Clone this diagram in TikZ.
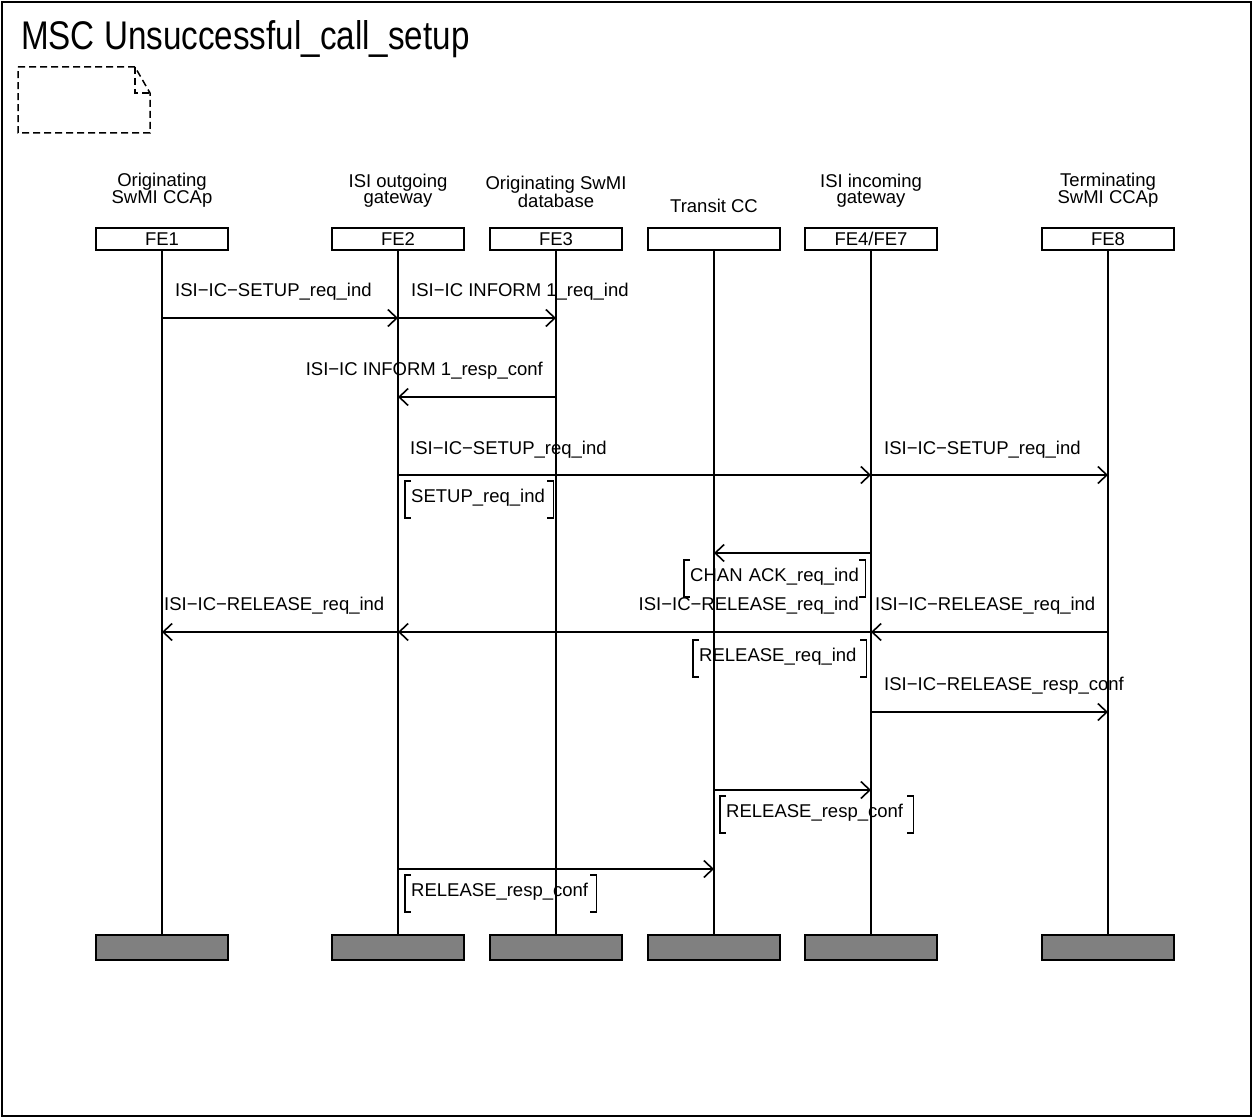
\documentclass[tikz,border=0pt]{standalone}
\usepackage{fontspec}
\setmainfont{Liberation Sans}
\newfontfamily\mscTitleFont[FakeStretch=0.83]{Liberation Sans}
\usetikzlibrary{arrows.meta}
\newcommand\mscbrk[1]{%
  \draw[lw] ([xshift=6pt]#1.north west) -- (#1.north west) -- (#1.south west) -- ([xshift=6pt]#1.south west);
  \draw[lw] ([xshift=-6pt]#1.north east) -- (#1.north east) -- (#1.south east) -- ([xshift=-6pt]#1.south east);}
\begin{document}
\begin{tikzpicture}[x=1pt,y=-1pt,
  lw/.style={line width=1.6pt},
  head/.style={draw, line width=1.6pt, minimum width=132pt, minimum height=22pt, inner sep=0pt, font=\fontsize{18.5}{18.5}\selectfont},
  tail/.style={draw, line width=1.6pt, fill=gray, minimum width=132pt, minimum height=25pt, inner sep=0pt},
  ltitle/.style={align=center, inner sep=0pt, font=\fontsize{18.5}{15.5}\selectfont, anchor=south},
  lbl/.style={inner sep=0pt, font=\fontsize{18.5}{18.5}\selectfont},
  msg/.style={line width=1.6pt, -{Straight Barb[length=9pt,width=17pt,line width=1.6pt]}},
  cond/.style={inner xsep=6pt, inner ysep=0pt, text height=21pt, text depth=16pt, anchor=base west, text width=#1-12pt, align=left, font=\fontsize{18.5}{18.5}\selectfont}
]
\useasboundingbox (0,0) rectangle (1254,1118);
\draw[line width=1.6pt] (2,2) rectangle (1251,1116);
\node[anchor=base west, inner sep=0pt, font=\mscTitleFont\fontsize{40}{44}\selectfont] (ttl) at (21,50) {MSC Unsuccessful\_call\_setup};
% dashed note
\draw[line width=1.5pt, dash pattern=on 7pt off 4pt] (18,67) -- (135,67) -- (150,93) -- (150,133) -- (18,133) -- cycle;
\draw[line width=1.5pt, dash pattern=on 7pt off 4pt] (135,67) -- (135,93) -- (150,93);
% instance heads
\node[head] (h1) at (162,239) {FE1};
\node[head] (h2) at (398,239) {FE2};
\node[head] (h3) at (556,239) {FE3};
\node[head] (h4) at (714,239) {};
\node[head] (h5) at (871,239) {FE4/FE7};
\node[head] (h6) at (1108,239) {FE8};
\node[ltitle] (n1) at (162,208) {Originating\\SwMI CCAp};
\node[ltitle] (n2) at (398,208) {ISI outgoing\\gateway};
\node[ltitle] (n3) at (556,208) {Originating SwMI\\database};
\node[lbl, anchor=base] (n4) at (714,213) {Transit CC};
\node[ltitle] (n5) at (871,208) {ISI incoming\\gateway};
\node[ltitle] (n6) at (1108,208) {Terminating\\SwMI CCAp};
% tails
\node[tail] (t1) at (162,947.5) {};
\node[tail] (t2) at (398,947.5) {};
\node[tail] (t3) at (556,947.5) {};
\node[tail] (t4) at (714,947.5) {};
\node[tail] (t5) at (871,947.5) {};
\node[tail] (t6) at (1108,947.5) {};
\foreach \i in {1,...,6} \draw[lw] (h\i.south) -- (t\i.north);
% messages
\draw[msg] (h1 |- 0,318) -- (h2 |- 0,318);
\node[lbl, anchor=base west] (l1) at (175,297) {ISI−IC−SETUP\_req\_ind};
\draw[msg] (h2 |- 0,318) -- (h3 |- 0,318);
\node[lbl, anchor=base west] (l2) at (411,297) {ISI−IC INFORM 1\_req\_ind};
\draw[msg] (h3 |- 0,397) -- (h2 |- 0,397);
\node[lbl, anchor=base east] (l3) at (543,375) {ISI−IC INFORM 1\_resp\_conf};
\draw[msg] (h2 |- 0,475) -- (h5 |- 0,475);
\node[lbl, anchor=base west] (l4) at (410,454) {ISI−IC−SETUP\_req\_ind};
\draw[msg] (h5 |- 0,475) -- (h6 |- 0,475);
\node[lbl, anchor=base west] (l5) at (884,454) {ISI−IC−SETUP\_req\_ind};
\node[cond=148pt] (c1) at (405,502) {\mbox{SETUP\_req\_ind}};
\mscbrk{c1}
\draw[msg] (h5 |- 0,553) -- (h4 |- 0,553);
\node[cond=181pt] (c2) at (684,581) {\mbox{CHAN ACK\_req\_ind}};
\mscbrk{c2}
\draw[msg] (h6 |- 0,632) -- (h5 |- 0,632);
\node[lbl, anchor=base west] (l6) at (875,610) {ISI−IC−RELEASE\_req\_ind};
\draw[msg] (h5 |- 0,632) -- (h2 |- 0,632);
\node[lbl, anchor=base east] (l7) at (859,610) {ISI−IC−RELEASE\_req\_ind};
\draw[msg] (h2 |- 0,632) -- (h1 |- 0,632);
\node[lbl, anchor=base west] (l8) at (164,610) {ISI−IC−RELEASE\_req\_ind};
\node[cond=173pt] (c3) at (693,661) {\mbox{RELEASE\_req\_ind}};
\mscbrk{c3}
\draw[msg] (h5 |- 0,712) -- (h6 |- 0,712);
\node[lbl, anchor=base west] (l9) at (884,690) {ISI−IC−RELEASE\_resp\_conf};
\draw[msg] (h4 |- 0,790) -- (h5 |- 0,790);
\node[cond=193pt] (c4) at (720,817) {\mbox{RELEASE\_resp\_conf}};
\mscbrk{c4}
\draw[msg] (h2 |- 0,869) -- (h4 |- 0,869);
\node[cond=191pt] (c5) at (405,896) {\mbox{RELEASE\_resp\_conf}};
\mscbrk{c5}
\end{tikzpicture}
\end{document}
